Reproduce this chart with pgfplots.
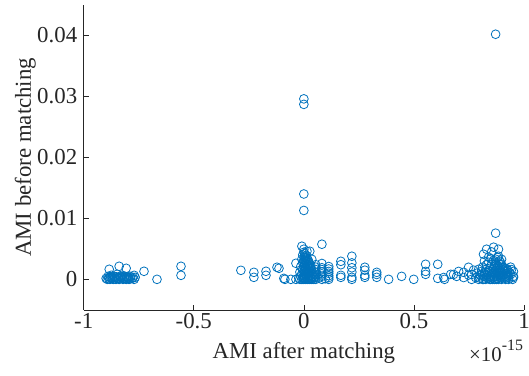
\documentclass[border=0pt]{standalone}
\usepackage{fontspec}
\setmainfont{Liberation Serif}
\usepackage{pgfplots}
\pgfplotsset{compat=1.18}
\definecolor{mblue}{rgb}{0,0.447,0.741}
\definecolor{axgray}{rgb}{0.15,0.15,0.15}
\begin{document}
\begin{tikzpicture}
\path[use as bounding box] (-84bp,-66bp) rectangle (447bp,311bp);
\begin{axis}[
  scale only axis, width=442bp, height=306bp,
  xmin=-1, xmax=1, ymin=-0.005, ymax=0.045,
  axis x line*=bottom, axis y line*=left,
  axis line style={-, draw=axgray, line width=0.6bp},
  tick align=inside, major tick length=5bp,
  tick style={axgray, line width=0.6bp},
  xtick={-1,-0.5,0,0.5,1}, xticklabels={-1,-0.5,0,0.5,1},
  ytick={0,0.01,0.02,0.03,0.04}, yticklabels={0,0.01,0.02,0.03,0.04},
  scaled x ticks=false, scaled y ticks=false,
  ticklabel style={font=\fontsize{23}{27}\selectfont, text=axgray},
  yticklabel style={xshift=-3bp},
  label style={font=\fontsize{23}{27}\selectfont, text=axgray},
  xlabel={AMI after matching},
  ylabel={AMI before matching},
  xlabel style={at={(axis description cs:0.5,-0.16)}, anchor=base},
  ylabel style={at={(axis description cs:-0.12,0.5)}, anchor=base},
  clip=false,
]
\addplot[only marks, mark=o, mark size=4.4bp, mark options={draw=mblue, line width=0.8bp}] coordinates {
(-0.898,0.00016)(-0.893,0.0)(-0.889,0.00049)(-0.884,0.00165)(-0.884,0.00033)(-0.880,0.0)(-0.875,0.00066)(-0.871,0.00016)(-0.866,0.0)(-0.862,0.00049)(-0.857,0.00033)(-0.853,0.0)(-0.848,0.00082)(-0.844,0.00016)(-0.839,0.00214)(-0.839,0.0)(-0.835,0.00049)(-0.830,0.00033)(-0.826,0.00066)(-0.821,0.0)(-0.816,0.00016)(-0.812,0.00049)(-0.807,0.00181)(-0.807,0.0)(-0.803,0.00033)(-0.798,0.00016)(-0.794,0.0)(-0.789,0.00049)(-0.780,0.00016)(-0.771,0.00066)(-0.771,0.0)(-0.766,0.00033)(-0.726,0.00132)(-0.667,0.0)(-0.558,0.00214)(-0.558,0.00066)
(-0.886,0.0001)(-0.878,0.0004)(-0.869,0.0003)(-0.860,0.0001)(-0.851,0.0004)(-0.842,0.0003)(-0.833,0.0001)(-0.824,0.0004)(-0.815,0.0003)(-0.806,0.0004)(-0.797,0.0003)(-0.788,0.0001)(-0.776,0.0003)
(-0.286,0.00148)(-0.227,0.00115)(-0.227,0.00033)(-0.172,0.00132)(-0.172,0.00066)(-0.122,0.00198)(-0.113,0.00181)(-0.091,0.00016)(-0.086,0.0)(-0.059,0.0)(-0.036,0.00263)(-0.036,0.0)
(0,0.0296)(0,0.0287)(0,0.0140)(0,0.0113)
(-0.009,0.00543)(0,0.00494)(0.014,0.00461)(0.027,0.00461)(0.036,0.00329)(0,0.00444)(-0.005,0.0040)(0.005,0.0038)(0.009,0.0035)(-0.009,0.0033)(0,0.0031)(0.014,0.0030)(0.023,0.0028)(-0.005,0.0027)(0.005,0.0025)(0.018,0.0024)(0.032,0.0022)(-0.014,0.0021)(0,0.0020)(0.009,0.0019)(0.027,0.0018)(-0.005,0.0016)(0.014,0.0015)(0.036,0.0014)(0,0.0013)(-0.018,0.0012)(0.023,0.0011)(0.005,0.0010)(-0.009,0.0009)(0.018,0.0008)(0.032,0.0007)(0,0.0006)(-0.014,0.0005)(0.009,0.0005)(0.027,0.0004)(-0.005,0.0003)(0.014,0.0003)(-0.023,0.0002)(0.005,0.0002)(0.036,0.0002)(0,0.0001)(-0.018,0)(-0.009,0)(0,0)(0.009,0)(0.018,0)(0.027,0)(0.036,0)(0.045,0)
(0.004,0.0042)(0.011,0.0039)(0.002,0.0036)(0.016,0.0034)(0.007,0.0030)(0.020,0.0031)(0.002,0.0028)(0.011,0.0026)(0.025,0.0025)(0.004,0.0022)(0.016,0.0021)(0.029,0.0020)(0.007,0.0017)(0.020,0.0016)(0.033,0.0017)(0.002,0.0015)(0.011,0.0012)(0.027,0.0013)(0.040,0.0010)(0.007,0.0008)(0.016,0.0010)(0.040,0.0005)(0.022,0.0006)(0.002,0.0003)(0.031,0.0002)(0.045,0.0003)(0.020,0.0001)
(0.054,0.0)(0.054,0.0008)(0.054,0.0016)(0.054,0.0024)(0.082,0.00576)(0.082,0.0)(0.082,0.0005)(0.082,0.0012)(0.082,0.0019)(0.082,0.0026)(0.113,0.0)(0.113,0.0006)(0.113,0.0013)(0.113,0.0021)
(0.054,0.0004)(0.054,0.0012)(0.054,0.0020)(0.082,0.0009)(0.082,0.0016)(0.113,0.0003)(0.113,0.0010)(0.113,0.0017)(0.068,0.0002)(0.097,0.0001)
(0.168,0.00296)(0.168,0.0024)(0.168,0.00066)(0.168,0.00033)(0.218,0.00379)(0.218,0.0027)(0.218,0.0019)(0.218,0.0012)(0.218,0.00033)(0.218,0.0)(0.277,0.00198)(0.277,0.0015)(0.277,0.00066)(0.277,0.00033)(0.331,0.00115)(0.331,0.0008)(0.331,0.00033)(0.385,0.0)(0.444,0.00049)(0.499,0.0)
(0.553,0.00247)(0.553,0.0013)(0.553,0.00082)(0.608,0.00247)(0.608,0.00016)(0.635,0.0003)(0.639,0.0)(0.667,0.00082)(0.680,0.0008)(0.694,0.00049)(0.703,0.0013)(0.726,0.00115)(0.726,0.0003)(0.748,0.00198)(0.748,0.0007)
(0.871,0.0402)(0.871,0.00757)(0.862,0.00527)(0.830,0.00494)(0.884,0.00494)(0.816,0.00412)(0.839,0.00362)(0.884,0.00379)(0.898,0.00329)(0.853,0.0045)
(0.762,0.0)(0.762,0.0008)(0.771,0.0015)(0.780,0.0003)(0.785,0.0010)(0.794,0.00165)(0.794,0.0)(0.803,0.0006)(0.807,0.0013)(0.812,0.0020)(0.816,0.0)(0.821,0.0009)(0.826,0.0016)(0.830,0.0024)(0.830,0.0003)(0.835,0.0011)(0.839,0.0028)(0.844,0.0)(0.844,0.0018)(0.848,0.0007)(0.853,0.0025)(0.853,0.0013)(0.857,0.0003)(0.862,0.0031)(0.862,0.0020)(0.866,0.0009)(0.866,0.0)(0.871,0.0027)(0.871,0.0015)(0.875,0.0005)(0.880,0.0022)(0.880,0.0011)(0.884,0.0)(0.889,0.0030)(0.889,0.0017)(0.893,0.0007)(0.898,0.0024)(0.898,0.0012)(0.902,0.0003)(0.907,0.0019)(0.907,0.0008)(0.912,0.0014)(0.916,0.0)(0.921,0.0010)(0.921,0.0005)(0.925,0.0016)(0.930,0.0003)(0.939,0.0020)(0.939,0.0008)(0.943,0.0016)(0.948,0.0)(0.952,0.0005)(0.952,0.0013)(0.952,0.0003)(0.921,0.0003)(0.857,0.0)(0.875,0.0)(0.898,0.0)(0.930,0.0)(0.812,0.0)(0.826,0.0)(0.848,0.0)(0.871,0.0033)(0.880,0.0036)(0.893,0.0028)(0.850,0.0034)(0.820,0.0030)
(0.818,0.0005)(0.832,0.0007)(0.841,0.0014)(0.846,0.0004)(0.855,0.0009)(0.859,0.0016)(0.864,0.0005)(0.868,0.0012)(0.868,0.0022)(0.873,0.0009)(0.877,0.0002)(0.877,0.0018)(0.882,0.0006)(0.886,0.0014)(0.886,0.0025)(0.891,0.0003)(0.891,0.0010)(0.895,0.0020)(0.900,0.0007)(0.904,0.0015)(0.909,0.0004)(0.914,0.0009)(0.918,0.0018)(0.923,0.0013)(0.927,0.0007)(0.934,0.0011)(0.809,0.0009)(0.800,0.0002)(0.827,0.0012)(0.837,0.0002)
};
\node[anchor=base east, text=axgray, font=\fontsize{21}{24}\selectfont, inner sep=0pt] at (axis description cs:0.998,-0.168) {×10\raisebox{0.5em}{\fontsize{16}{18}\selectfont -15}};
\end{axis}
\end{tikzpicture}
\end{document}
